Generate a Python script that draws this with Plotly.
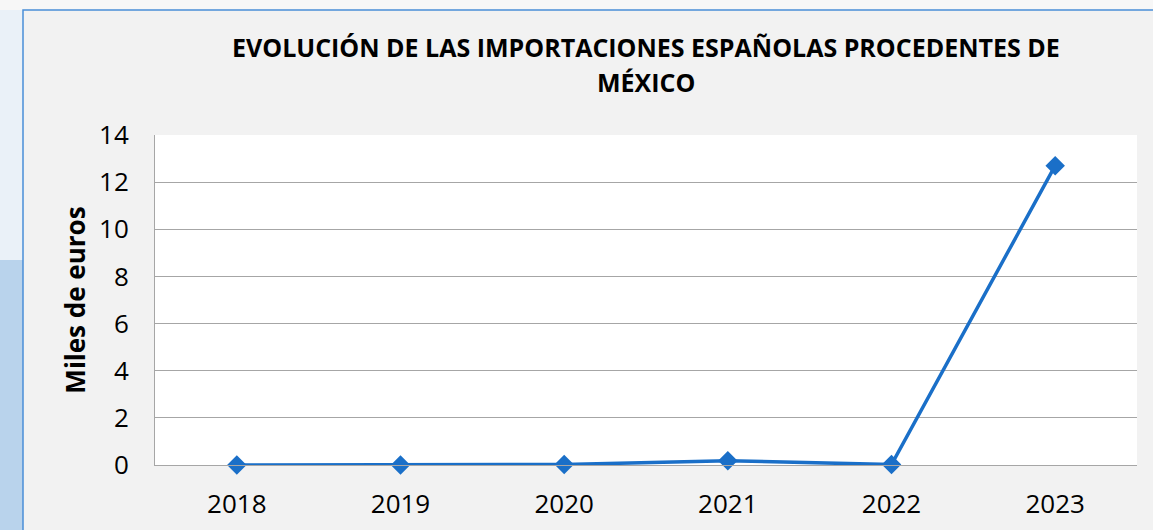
import plotly.graph_objects as go

years = ["2018", "2019", "2020", "2021", "2022", "2023"]
values = [0.0, 0.0, 0.02, 0.18, 0.02, 12.7]
y_ticks = [0, 2, 4, 6, 8, 10, 12, 14]
title_lines = ["EVOLUCIÓN DE LAS IMPORTACIONES ESPAÑOLAS PROCEDENTES DE", "MÉXICO"]

W, H = 1153, 530
L, R, T, B = 155, 16, 135, 65
pw, ph = W - L - R, H - T - B

def px(x):
    return (x - L) / pw

def py(y):
    return (H - B - y) / ph

fig = go.Figure()
fig.add_trace(go.Scatter(
    x=years, y=values, mode="lines+markers",
    line=dict(color="#1a6fc8", width=3.5),
    marker=dict(symbol="diamond", size=15, color="#1a6fc8"),
    cliponaxis=False, showlegend=False,
))

shapes = [
    # left decorative strip
    dict(type="rect", xref="paper", yref="paper", x0=px(-5), x1=px(23), y0=py(-5), y1=py(535),
         fillcolor="#b9d3ec", line=dict(width=0), layer="below"),
    dict(type="rect", xref="paper", yref="paper", x0=px(-5), x1=px(23), y0=py(260), y1=py(-5),
         fillcolor="#eaf1f8", line=dict(width=0), layer="below"),
    # top strip
    dict(type="rect", xref="paper", yref="paper", x0=px(-5), x1=px(1160), y0=py(-5), y1=py(10),
         fillcolor="#f7f7f7", line=dict(width=0), layer="below"),
    # chart border
    dict(type="rect", xref="paper", yref="paper", x0=px(23), x1=px(1165), y0=py(10), y1=py(540),
         fillcolor="rgba(0,0,0,0)", line=dict(color="#4a8fd8", width=1.5), layer="below"),
]

annotations = [
    dict(text="<b>%s</b>" % t, xref="paper", yref="paper", x=0.5, y=py(yy),
         xanchor="center", yanchor="middle", showarrow=False,
         font=dict(size=25, family="Open Sans, sans-serif", color="#000000"))
    for t, yy in zip(title_lines, [47, 82])
]

fig.update_layout(
    width=W, height=H,
    margin=dict(l=L, r=R, t=T, b=B, autoexpand=False),
    paper_bgcolor="#f2f2f2",
    plot_bgcolor="#ffffff",
    font=dict(family="Open Sans, sans-serif", color="#000000"),
    shapes=shapes,
    annotations=annotations,
    xaxis=dict(
        type="category", range=[-0.5, 5.5], showgrid=False, zeroline=False,
        showline=True, linecolor="#a6a6a6", linewidth=1, automargin=False,
        tickfont=dict(size=26), ticks="", ticklabelstandoff=16,
    ),
    yaxis=dict(
        range=[0, 14], tickvals=y_ticks, showgrid=True, gridcolor="#a6a6a6", gridwidth=1,
        zeroline=False, showline=True, linecolor="#a6a6a6", linewidth=1, automargin=False,
        tickfont=dict(size=26), ticks="", ticklabelstandoff=20,
        title=dict(text="<b>Miles de euros</b>", font=dict(size=26), standoff=5),
    ),
)

fig.write_html("out.html", config={"displayModeBar": False},
               post_script="document.body.style.margin='0px';document.body.style.overflow='hidden';")
